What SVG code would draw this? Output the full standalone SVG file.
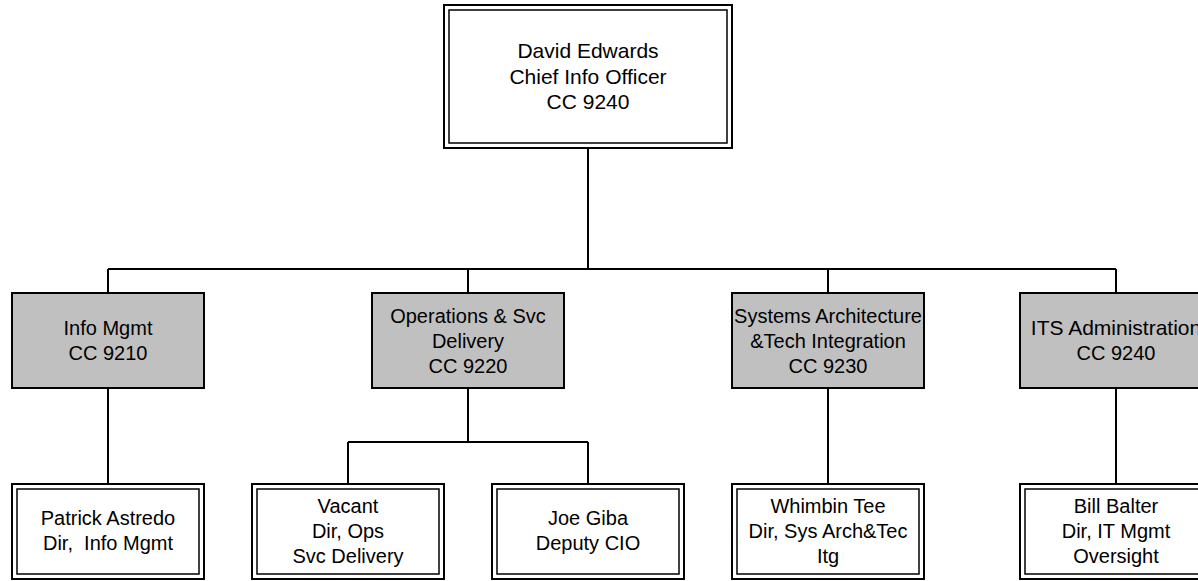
<svg xmlns="http://www.w3.org/2000/svg" width="1198" height="581" viewBox="0 0 1198 581">
<style>
.bg{fill:#ffffff}
.outer{fill:#ffffff;stroke:#000;stroke-width:2}
.inner{fill:none;stroke:#000;stroke-width:1.5}
.dept{fill:#c0c0c0;stroke:#000;stroke-width:2}
.conn{fill:none;stroke:#000;stroke-width:2}
text{font-family:"Liberation Sans",Arial,sans-serif;font-size:20px;fill:#000;text-anchor:middle}
.big{font-size:21px}
</style>
<rect class="bg" x="0" y="0" width="1198" height="581"/>
<g id="connectors">
<path class="conn" d="M588,148 V269 M108,269 H1116 M108,269 V293 M468,269 V293 M828,269 V293 M1116,269 V293"/>
<path class="conn" d="M108,388 V484 M468,388 V442 M348,442 H588 M348,442 V484 M588,442 V484 M828,388 V484 M1116,388 V484"/>
</g>
<g id="ceo">
<rect class="outer" x="444" y="5" width="288" height="143"/>
<rect class="inner" x="449" y="10" width="278" height="133"/>
<text class="big" x="588" y="57.5">David Edwards</text>
<text class="big" x="588" y="83.5">Chief Info Officer</text>
<text class="big" x="588" y="109">CC 9240</text>
</g>
<g id="info-mgmt">
<rect class="dept" x="12" y="293" width="192" height="95"/>
<text x="108" y="335">Info Mgmt</text>
<text x="108" y="360">CC 9210</text>
</g>
<g id="ops-svc">
<rect class="dept" x="372" y="293" width="192" height="95"/>
<text x="468" y="323">Operations &amp; Svc</text>
<text x="468" y="348">Delivery</text>
<text x="468" y="373">CC 9220</text>
</g>
<g id="sys-arch">
<rect class="dept" x="732" y="293" width="192" height="95"/>
<text x="828" y="323">Systems Architecture</text>
<text x="828" y="348">&amp;Tech Integration</text>
<text x="828" y="373">CC 9230</text>
</g>
<g id="its-admin">
<rect class="dept" x="1020" y="293" width="192" height="95"/>
<text class="big" x="1116" y="335">ITS Administration</text>
<text x="1116" y="360">CC 9240</text>
</g>
<g id="patrick">
<rect class="outer" x="12" y="484" width="192" height="95"/>
<rect class="inner" x="17" y="489" width="182" height="85"/>
<text x="108" y="525">Patrick Astredo</text>
<text x="108" y="550" xml:space="preserve">Dir,  Info Mgmt</text>
</g>
<g id="vacant">
<rect class="outer" x="252" y="484" width="192" height="95"/>
<rect class="inner" x="257" y="489" width="182" height="85"/>
<text x="348" y="513">Vacant</text>
<text x="348" y="538">Dir, Ops</text>
<text x="348" y="563">Svc Delivery</text>
</g>
<g id="joe">
<rect class="outer" x="492" y="484" width="192" height="95"/>
<rect class="inner" x="497" y="489" width="182" height="85"/>
<text x="588" y="525">Joe Giba</text>
<text x="588" y="550">Deputy CIO</text>
</g>
<g id="whimbin">
<rect class="outer" x="732" y="484" width="192" height="95"/>
<rect class="inner" x="737" y="489" width="182" height="85"/>
<text x="828" y="513">Whimbin Tee</text>
<text x="828" y="538">Dir, Sys Arch&amp;Tec</text>
<text x="828" y="563">Itg</text>
</g>
<g id="bill">
<rect class="outer" x="1020" y="484" width="192" height="95"/>
<rect class="inner" x="1025" y="489" width="182" height="85"/>
<text x="1116" y="513">Bill Balter</text>
<text x="1116" y="538">Dir, IT Mgmt</text>
<text x="1116" y="563">Oversight</text>
</g>
</svg>
